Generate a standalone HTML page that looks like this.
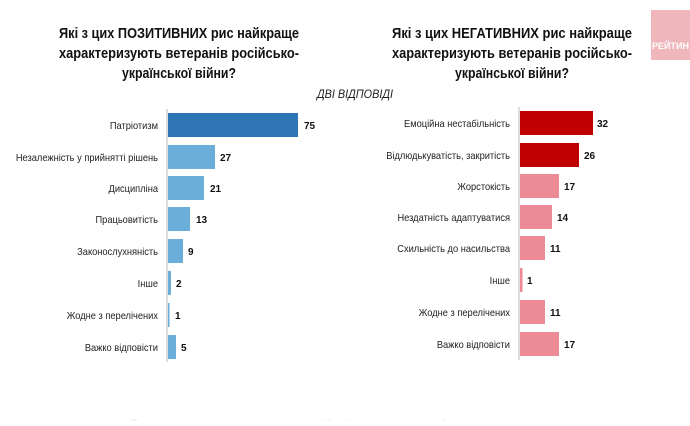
<!DOCTYPE html>
<html><head><meta charset="utf-8"><style>
body{margin:0;background:#fff;}
svg text{font-family:"Liberation Sans",sans-serif;}
</style></head><body>
<svg width="690" height="421" xmlns="http://www.w3.org/2000/svg">
<rect x="651" y="10" width="39" height="50" fill="#efb7bc"/>
<text x="652" y="49" font-size="9" font-weight="bold" fill="#fff">РЕЙТИН</text>
<g font-weight="bold" font-size="14.5" fill="#111" text-anchor="middle" lengthAdjust="spacingAndGlyphs">
<text x="179" y="38" textLength="240" lengthAdjust="spacingAndGlyphs">Які з цих ПОЗИТИВНИХ рис найкраще</text>
<text x="179" y="58" textLength="240" lengthAdjust="spacingAndGlyphs">характеризують ветеранів російсько-</text>
<text x="179" y="78" textLength="114" lengthAdjust="spacingAndGlyphs">української війни?</text>
<text x="512" y="38" textLength="240" lengthAdjust="spacingAndGlyphs">Які з цих НЕГАТИВНИХ  рис найкраще</text>
<text x="512" y="58" textLength="240" lengthAdjust="spacingAndGlyphs">характеризують ветеранів російсько-</text>
<text x="512" y="78" textLength="114" lengthAdjust="spacingAndGlyphs">української війни?</text>
</g>
<text x="355" y="98" font-size="11.5" font-style="italic" fill="#222" text-anchor="middle" textLength="76" lengthAdjust="spacingAndGlyphs">ДВІ ВІДПОВІДІ</text>
<g stroke="#bbb" stroke-width="1">
<line x1="167" y1="109" x2="167" y2="362"/>
<line x1="519" y1="107" x2="519" y2="360"/>
</g>
<g font-size="10" fill="#222" text-anchor="end" transform="translate(158,0) scale(0.93,1) translate(-158,0)">
<text x="158" y="129">Патріотизм</text>
<text x="158" y="161">Незалежність у прийнятті рішень</text>
<text x="158" y="192">Дисципліна</text>
<text x="158" y="223">Працьовитість</text>
<text x="158" y="255">Законослухняність</text>
<text x="158" y="287">Інше</text>
<text x="158" y="319">Жодне з перелічених</text>
<text x="158" y="351">Важко відповісти</text>
</g>
<g font-size="10" fill="#222" text-anchor="end" transform="translate(510,0) scale(0.93,1) translate(-510,0)">
<text x="510" y="127">Емоційна нестабільність</text>
<text x="510" y="159">Відлюдькуватість, закритість</text>
<text x="510" y="190">Жорстокість</text>
<text x="510" y="221">Нездатність адаптуватися</text>
<text x="510" y="252">Схильність до насильства</text>
<text x="510" y="284">Інше</text>
<text x="510" y="316">Жодне з перелічених</text>
<text x="510" y="348">Важко відповісти</text>
</g>
<g>
<rect x="168" y="113" width="130" height="24" fill="#2e75b6"/>
<rect x="168" y="145" width="47" height="24" fill="#6aaed9"/>
<rect x="168" y="176" width="36" height="24" fill="#6aaed9"/>
<rect x="168" y="207" width="22" height="24" fill="#6aaed9"/>
<rect x="168" y="239" width="15" height="24" fill="#6aaed9"/>
<rect x="168" y="271" width="3" height="24" fill="#6aaed9"/>
<rect x="168" y="303" width="1.5" height="24" fill="#6aaed9"/>
<rect x="168" y="335" width="8" height="24" fill="#6aaed9"/>
<rect x="520" y="111" width="73" height="24" fill="#c00000"/>
<rect x="520" y="143" width="59" height="24" fill="#c00000"/>
<rect x="520" y="174" width="39" height="24" fill="#ec8a95"/>
<rect x="520" y="205" width="32" height="24" fill="#ec8a95"/>
<rect x="520" y="236" width="25" height="24" fill="#ec8a95"/>
<rect x="520" y="268" width="2.5" height="24" fill="#ec8a95"/>
<rect x="520" y="300" width="25" height="24" fill="#ec8a95"/>
<rect x="520" y="332" width="39" height="24" fill="#ec8a95"/>
</g>
<g font-size="10" font-weight="bold" fill="#111">
<text x="304" y="129">75</text>
<text x="220" y="161">27</text>
<text x="210" y="192">21</text>
<text x="196" y="223">13</text>
<text x="188" y="255">9</text>
<text x="176" y="287">2</text>
<text x="175" y="319">1</text>
<text x="181" y="351">5</text>
<text x="597" y="127">32</text>
<text x="584" y="159">26</text>
<text x="564" y="190">17</text>
<text x="557" y="221">14</text>
<text x="550" y="252">11</text>
<text x="527" y="284">1</text>
<text x="550" y="316">11</text>
<text x="564" y="348">17</text>
</g>
<text x="130" y="427" font-size="11" fill="#e4e6ee">Опитування проведене з ініціативи ... України ... власного ... форми</text>
</svg>
</body></html>
